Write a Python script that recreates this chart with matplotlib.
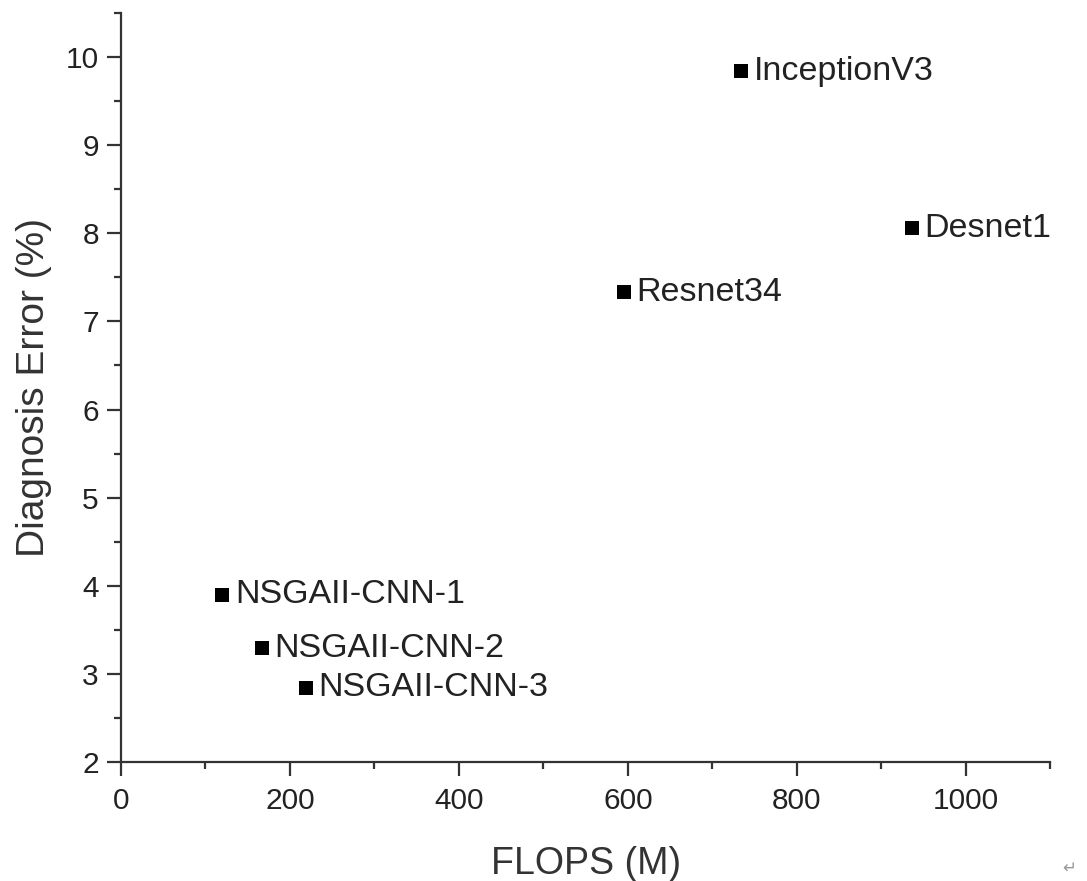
import matplotlib
matplotlib.use("Agg")
import matplotlib.pyplot as plt
from matplotlib.ticker import MultipleLocator

plt.rcParams['font.family'] = ['Liberation Sans', 'DejaVu Sans']

models = ["InceptionV3", "Desnet1", "Resnet34", "NSGAII-CNN-1", "NSGAII-CNN-2", "NSGAII-CNN-3"]
flops = [734, 936, 595, 120, 167, 219]
errors = [9.84, 8.06, 7.33, 3.90, 3.29, 2.84]

fig = plt.figure(figsize=(10.87, 8.81), dpi=100)
ax = fig.add_axes([0.1113, 0.1351, 0.8551, 0.8501])

ax.scatter(flops, errors, marker='s', s=115, color='black', zorder=3, linewidths=0)
for name, x, y in zip(models, flops, errors):
    ax.annotate(name, (x, y), xytext=(9, 0), textcoords='offset points',
                ha='left', va='center', fontsize=24.5, color='#222222')

ax.set_xlim(0, 1100)
ax.set_ylim(2, 10.5)
ax.xaxis.set_major_locator(MultipleLocator(200))
ax.xaxis.set_minor_locator(MultipleLocator(100))
ax.yaxis.set_major_locator(MultipleLocator(1))
ax.yaxis.set_minor_locator(MultipleLocator(0.5))

for s in ['top', 'right']:
    ax.spines[s].set_visible(False)
for s in ['left', 'bottom']:
    ax.spines[s].set_linewidth(1.6)
    ax.spines[s].set_color('#333333')

ax.tick_params(which='major', direction='out', length=10, width=1.6, color='#333333',
               labelsize=21.5, labelcolor='#222222')
ax.tick_params(axis='x', which='major', pad=8)
ax.tick_params(axis='y', which='major', pad=6)
ax.tick_params(which='minor', direction='out', length=5, width=1.6, color='#333333')

ax.set_xlabel("FLOPS (M)", fontsize=27, color='#333333', labelpad=22)
ax.set_ylabel("Diagnosis Error (%)", fontsize=28, color='#333333', labelpad=10)

fig.text(0.99, 0.005, "↵", fontsize=12, color='#999999', ha='right', va='bottom',
         family='DejaVu Sans')

fig.savefig("out.png", dpi=100)
